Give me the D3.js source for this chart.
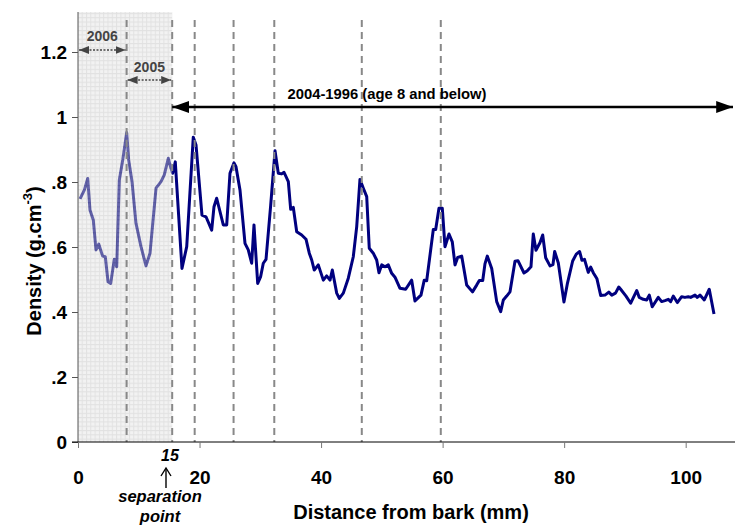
<!DOCTYPE html>
<html><head><meta charset="utf-8">
<script src="https://cdn.jsdelivr.net/npm/d3@7"></script>
<style>body{margin:0;background:#fff}svg{display:block}text{font-family:"Liberation Sans",Arial,sans-serif}</style>
</head><body>
<script>
const distance = [0.33,1.04,1.60,1.97,2.52,2.96,3.41,4.06,4.49,4.94,5.38,5.97,6.37,6.80,7.36,8.01,8.34,8.89,9.54,10.37,11.19,11.85,12.84,13.66,14.20,14.86,15.30,15.58,16.01,17.11,17.89,18.97,19.42,20.40,21.06,22.00,22.38,22.82,23.91,24.47,25.01,25.67,26.00,26.66,27.48,28.02,28.58,28.96,29.57,30.06,30.49,30.94,31.71,32.42,32.96,33.52,33.90,34.61,35.00,35.43,35.99,36.81,37.52,38.06,38.46,38.88,39.54,40.37,40.92,41.47,41.85,42.57,43.00,43.66,44.48,45.30,45.86,46.40,46.95,47.51,47.93,48.59,49.15,49.53,49.98,50.52,51.06,51.62,52.16,52.99,53.92,54.91,55.45,56.44,56.98,57.38,58.47,58.86,59.40,59.95,60.39,61.05,61.59,62.04,62.48,63.14,63.96,64.92,65.58,66.04,66.60,66.97,67.35,68.08,68.90,69.56,69.99,70.54,71.09,71.91,72.40,73.39,73.94,74.54,74.92,75.36,76.02,76.47,76.96,77.67,78.16,78.44,79.04,79.97,80.55,81.40,82.00,82.55,82.93,83.35,83.97,84.37,84.79,85.40,86.01,86.72,87.35,87.84,88.45,88.99,89.30,90.18,90.95,91.94,92.36,93.02,93.58,94.01,94.50,95.49,96.05,96.59,97.14,97.53,97.96,98.62,99.34,99.88,100.43,100.82,101.53,101.91,102.35,103.06,103.88,104.66];
const density = [0.748,0.775,0.811,0.714,0.683,0.591,0.609,0.572,0.570,0.493,0.488,0.562,0.539,0.806,0.868,0.952,0.868,0.801,0.673,0.601,0.542,0.581,0.781,0.801,0.822,0.873,0.842,0.827,0.862,0.534,0.601,0.938,0.914,0.698,0.693,0.652,0.724,0.750,0.668,0.668,0.827,0.859,0.847,0.775,0.611,0.591,0.550,0.668,0.488,0.509,0.550,0.562,0.729,0.896,0.827,0.825,0.830,0.801,0.716,0.722,0.647,0.637,0.624,0.581,0.560,0.529,0.545,0.498,0.511,0.498,0.529,0.458,0.442,0.458,0.504,0.570,0.662,0.808,0.781,0.755,0.596,0.581,0.560,0.521,0.545,0.539,0.545,0.519,0.507,0.473,0.470,0.498,0.434,0.452,0.498,0.496,0.654,0.654,0.719,0.719,0.601,0.640,0.616,0.545,0.568,0.572,0.483,0.462,0.482,0.497,0.497,0.548,0.572,0.534,0.432,0.401,0.437,0.449,0.462,0.556,0.558,0.520,0.527,0.539,0.640,0.590,0.613,0.637,0.567,0.542,0.546,0.586,0.551,0.431,0.489,0.557,0.578,0.586,0.559,0.562,0.522,0.538,0.521,0.502,0.451,0.452,0.461,0.452,0.458,0.477,0.470,0.449,0.427,0.466,0.445,0.439,0.437,0.452,0.416,0.445,0.432,0.435,0.439,0.432,0.449,0.429,0.447,0.445,0.447,0.445,0.452,0.445,0.452,0.437,0.470,0.394];
const ringBoundaries = [8.0, 15.5, 19.2, 25.6, 32.3, 46.7, 59.7];
const xTicks = [0, 20, 40, 60, 80, 100];
const yTicks = [0, 0.2, 0.4, 0.6, 0.8, 1.0, 1.2];
const yTickLabels = ["0", ".2", ".4", ".6", ".8", "1", "1.2"];
const separationPoint = 15.5;
const plotTop = 1.323;

const W = 735, H = 527;
const svg = d3.select("body").append("svg").attr("width", W).attr("height", H);
const x = d3.scaleLinear().domain([0, 108]).range([78, 734.3]);
const y = d3.scaleLinear().domain([0, 1.2]).range([442, 52]);

const defs = svg.append("defs");
const pat = defs.append("pattern").attr("id", "grid").attr("patternUnits", "userSpaceOnUse")
  .attr("width", 4.3).attr("height", 4.3);
pat.append("rect").attr("width", 4.3).attr("height", 4.3).attr("fill", "#e2e2e2");
pat.append("path").attr("d", "M0,0.5H4.3M0.5,0V4.3").attr("stroke", "#bdbdbd").attr("stroke-width", 1);
function mk(id, color, dir) {
  const m = defs.append("marker").attr("id", id).attr("viewBox", "0 0 10 10").attr("refX", dir > 0 ? 10 : 0).attr("refY", 5)
    .attr("markerWidth", 10).attr("markerHeight", 10).attr("markerUnits", "userSpaceOnUse").attr("orient", "auto");
  m.append("path").attr("d", dir > 0 ? "M0,1L10,5L0,9Z" : "M10,1L0,5L10,9Z").attr("fill", color);
}
mk("aEndG", "#444", 1); mk("aStartG", "#444", -1);
defs.append("marker").attr("id", "aBigS").attr("viewBox", "0 0 14 10").attr("refX", 0).attr("refY", 5)
  .attr("markerWidth", 17).attr("markerHeight", 12).attr("markerUnits", "userSpaceOnUse").attr("orient", "auto")
  .append("path").attr("d", "M14,0L0,5L14,10Z").attr("fill", "#000");
defs.append("marker").attr("id", "aBigE").attr("viewBox", "0 0 14 10").attr("refX", 14).attr("refY", 5)
  .attr("markerWidth", 17).attr("markerHeight", 12).attr("markerUnits", "userSpaceOnUse").attr("orient", "auto")
  .append("path").attr("d", "M0,0L14,5L0,10Z").attr("fill", "#000");

// line
const line = d3.line().x((d, i) => x(distance[i])).y(d => y(d));
svg.append("path").datum(density).attr("d", line).attr("fill", "none")
  .attr("stroke", "#00007f").attr("stroke-width", 3).attr("stroke-linejoin", "round");

// shaded juvenile region over the line
svg.append("rect").attr("x", x(0)).attr("y", y(plotTop)).attr("width", x(separationPoint) - x(0))
  .attr("height", y(0) - y(plotTop)).attr("fill", "url(#grid)").attr("opacity", 0.45);

// dashed ring boundaries
svg.selectAll(".ring").data(ringBoundaries).join("line")
  .attr("x1", d => x(d)).attr("x2", d => x(d)).attr("y1", 20).attr("y2", y(0))
  .attr("stroke", "#888").attr("stroke-width", 2).attr("stroke-dasharray", "7,5");

// axes
const yAxis = svg.append("g").attr("transform", `translate(${x(0)},0)`)
  .call(d3.axisLeft(y).tickValues(yTicks).tickFormat((d, i) => yTickLabels[i]).tickSize(6).tickSizeOuter(0));
yAxis.select(".domain").attr("stroke", "#555").attr("d", `M0,${y(plotTop)}V${y(0)}`);
yAxis.selectAll(".tick line").attr("stroke", "#555");
yAxis.selectAll("text").attr("font-size", 19).attr("font-weight", "bold").attr("fill", "#000").attr("dx", -2).attr("dy", "0.36em");

const xAxis = svg.append("g").attr("transform", `translate(0,${y(0)})`)
  .call(d3.axisBottom(x).tickValues(xTicks).tickFormat(d3.format("d")).tickSize(6).tickSizeOuter(0));
xAxis.select(".domain").attr("stroke", "#000").attr("d", `M${x(0) - 6},0H735`);
xAxis.selectAll(".tick line").attr("stroke", "#777");
xAxis.selectAll("text").attr("font-size", 19).attr("font-weight", "bold").attr("fill", "#000").attr("y", 35).attr("dy", "0.36em");

// axis titles
svg.append("text").attr("x", 411).attr("y", 519).attr("text-anchor", "middle")
  .attr("font-size", 20).attr("font-weight", "bold").text("Distance from bark (mm)");
const yl = svg.append("text").attr("transform", "translate(41,261) rotate(-90)").attr("text-anchor", "middle")
  .attr("font-size", 20).attr("font-weight", "bold");
yl.append("tspan").text("Density (g.cm");
yl.append("tspan").attr("font-size", 13).attr("dy", -9).text("-3");
yl.append("tspan").attr("dy", 9).text(")");

// year annotations
svg.append("line").attr("x1", x(0) + 1).attr("x2", x(8) - 1).attr("y1", 50).attr("y2", 50)
  .attr("stroke", "#444").attr("stroke-width", 1.5).attr("stroke-dasharray", "2,1.5")
  .attr("marker-start", "url(#aStartG)").attr("marker-end", "url(#aEndG)");
svg.append("text").attr("x", (x(0) + x(8)) / 2).attr("y", 41).attr("text-anchor", "middle")
  .attr("font-size", 14).attr("font-weight", "bold").attr("fill", "#444").text("2006");
svg.append("line").attr("x1", x(8) + 1).attr("x2", x(separationPoint) - 1).attr("y1", 80).attr("y2", 80)
  .attr("stroke", "#444").attr("stroke-width", 1.5).attr("stroke-dasharray", "2,1.5")
  .attr("marker-start", "url(#aStartG)").attr("marker-end", "url(#aEndG)");
svg.append("text").attr("x", (x(8) + x(separationPoint)) / 2).attr("y", 72).attr("text-anchor", "middle")
  .attr("font-size", 14).attr("font-weight", "bold").attr("fill", "#444").text("2005");

svg.append("line").attr("x1", x(separationPoint)).attr("x2", 733).attr("y1", 107).attr("y2", 107)
  .attr("stroke", "#000").attr("stroke-width", 2.5)
  .attr("marker-start", "url(#aBigS)").attr("marker-end", "url(#aBigE)");
svg.append("text").attr("x", 387).attr("y", 99).attr("text-anchor", "middle")
  .attr("font-size", 14.8).attr("font-weight", "bold").text("2004-1996 (age 8 and below)");

// separation point annotation
svg.append("text").attr("x", 170).attr("y", 461).attr("text-anchor", "middle")
  .attr("font-size", 16).attr("font-weight", "bold").attr("font-style", "italic").text("15");
svg.append("line").attr("x1", 166).attr("x2", 166).attr("y1", 488).attr("y2", 469)
  .attr("stroke", "#000").attr("stroke-width", 1.4);
svg.append("path").attr("d", "M161,476L166,468L171,476").attr("fill", "none").attr("stroke", "#000").attr("stroke-width", 1.4);
svg.append("text").attr("x", 160).attr("y", 502).attr("text-anchor", "middle")
  .attr("font-size", 16.5).attr("font-weight", "bold").attr("font-style", "italic").text("separation");
svg.append("text").attr("x", 160).attr("y", 522).attr("text-anchor", "middle")
  .attr("font-size", 16.5).attr("font-weight", "bold").attr("font-style", "italic").text("point");
</script>
</body></html>
